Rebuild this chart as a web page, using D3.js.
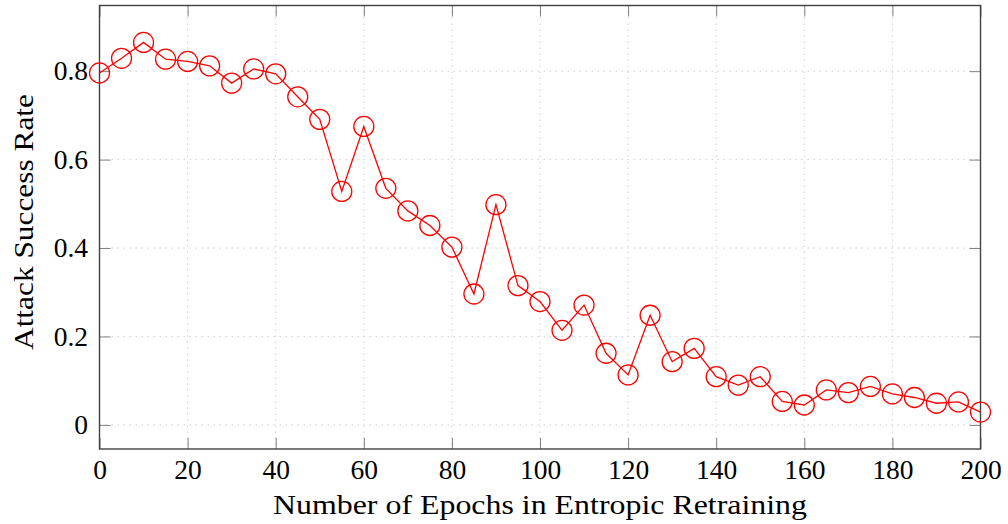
<!DOCTYPE html>
<html>
<head>
<meta charset="utf-8">
<script src="https://cdn.jsdelivr.net/npm/d3@7"></script>
<style>
  html, body { margin: 0; padding: 0; background: #fff; }
  svg { display: block; }
  text { font-family: "Liberation Serif", "DejaVu Serif", serif; fill: #000; }
</style>
</head>
<body>
<svg id="chart" width="1008" height="524"></svg>
<script>
const epochs = [0,5,10,15,20,25,30,35,40,45,50,55,60,65,70,75,80,85,90,95,100,105,110,115,120,125,130,135,140,145,150,155,160,165,170,175,180,185,190,195,200];
const successRate = [0.796,0.829,0.865,0.827,0.822,0.812,0.773,0.805,0.794,0.742,0.691,0.528,0.675,0.535,0.484,0.451,0.402,0.296,0.498,0.315,0.279,0.214,0.271,0.162,0.113,0.248,0.143,0.173,0.109,0.090,0.109,0.053,0.045,0.079,0.073,0.087,0.070,0.062,0.049,0.052,0.029];
const xTicks = [0,20,40,60,80,100,120,140,160,180,200];
const yTicks = [0,0.2,0.4,0.6,0.8];
const xLabel = "Number of Epochs in Entropic Retraining";
const yLabel = "Attack Success Rate";

const svg = d3.select("#chart");
const L = 99.5, R = 980.5, T = 5.5, B = 449;
const x = d3.scaleLinear().domain([0, 200]).range([L, R]);
const y = d3.scaleLinear().domain([-0.0545, 0.9485]).range([B, T]);

const fontSize = 27.5;

// grid
const grid = svg.append("g");
grid.selectAll("line.gx").data(xTicks).join("line")
  .attr("x1", d => x(d)).attr("x2", d => x(d)).attr("y1", T).attr("y2", B)
  .attr("stroke", "#c8c8c8").attr("stroke-width", 1).attr("stroke-dasharray", "1.3,4.7");
grid.selectAll("line.gy").data(yTicks).join("line")
  .attr("y1", d => y(d)).attr("y2", d => y(d)).attr("x1", L).attr("x2", R)
  .attr("stroke", "#c8c8c8").attr("stroke-width", 1).attr("stroke-dasharray", "1.3,4.7");

// ticks (inside) with d3 axes
const tickLen = 11;
const axB = svg.append("g").attr("transform", `translate(0,${B})`)
  .call(d3.axisBottom(x).tickValues(xTicks).tickSize(-tickLen).tickPadding(10).tickFormat(d3.format("d")));
const axT = svg.append("g").attr("transform", `translate(0,${T})`)
  .call(d3.axisTop(x).tickValues(xTicks).tickSize(-tickLen).tickFormat(""));
const axL = svg.append("g").attr("transform", `translate(${L},0)`)
  .call(d3.axisLeft(y).tickValues(yTicks).tickSize(-tickLen).tickPadding(11.5).tickFormat(d => d === 0 ? "0" : d3.format(".1f")(d)));
const axR = svg.append("g").attr("transform", `translate(${R},0)`)
  .call(d3.axisRight(y).tickValues(yTicks).tickSize(-tickLen).tickFormat(""));
[axB, axT, axL, axR].forEach(a => {
  a.select(".domain").remove();
  a.selectAll(".tick line").attr("stroke", "#808080").attr("stroke-width", 1);
  a.selectAll(".tick text").attr("font-family", "Liberation Serif, serif").attr("font-size", fontSize).attr("fill", "#000");
});
axB.selectAll(".tick text").attr("dy", "0.71em");

// frame
svg.append("rect").attr("x", L).attr("y", T).attr("width", R - L).attr("height", B - T)
  .attr("fill", "none").attr("stroke", "#404040").attr("stroke-width", 1.4);

// line
const line = d3.line().x((d, i) => x(epochs[i])).y(d => y(d));
svg.append("path").datum(successRate).attr("d", line)
  .attr("fill", "none").attr("stroke", "#ff0000").attr("stroke-width", 1.3);
svg.append("g").selectAll("circle").data(successRate).join("circle")
  .attr("cx", (d, i) => x(epochs[i])).attr("cy", d => y(d)).attr("r", 10)
  .attr("fill", "none").attr("stroke", "#ff0000").attr("stroke-width", 1.3);

// labels
svg.append("text").attr("x", (L + R) / 2).attr("y", 514).attr("text-anchor", "middle")
  .attr("font-size", fontSize).attr("textLength", 534).attr("lengthAdjust", "spacingAndGlyphs").text(xLabel);
svg.append("text").attr("transform", `translate(33,222) rotate(-90)`).attr("text-anchor", "middle")
  .attr("font-size", fontSize).attr("textLength", 256).attr("lengthAdjust", "spacingAndGlyphs").text(yLabel);
</script>
</body>
</html>
